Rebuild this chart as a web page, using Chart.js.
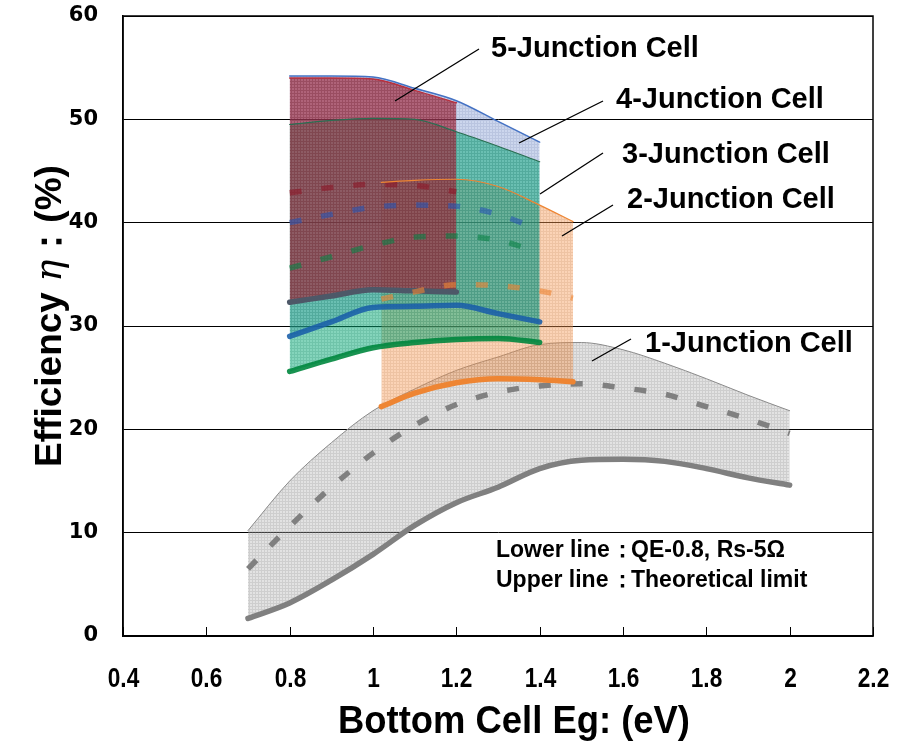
<!DOCTYPE html>
<html><head><meta charset="utf-8">
<script src="https://cdn.jsdelivr.net/npm/chart.js@4.4.0/dist/chart.umd.min.js"></script>
<style>html,body{margin:0;padding:0;background:#fff}#wrap{width:902px;height:743px}</style>
</head><body><div id="wrap"><canvas id="c" width="902" height="743"></canvas></div>
<script>
// ---- data ----
const xTicks = [0.4,0.6,0.8,1.0,1.2,1.4,1.6,1.8,2.0,2.2];
const yTicks = [0,10,20,30,40,50,60];

const j1X      = [0.7,0.8,0.9,1.0,1.1,1.2,1.3,1.4,1.5,1.6,1.7,1.8,1.9,2.0];
const j1Upper  = [10.2,15.0,18.7,21.8,23.9,25.7,27.0,28.2,28.4,27.7,26.4,24.9,23.3,21.8];
const j1Dashed = [6.5,10.6,14.4,17.7,20.4,22.4,23.6,24.2,24.4,24.0,23.4,22.2,21.0,19.6];
const j1Lower  = [1.7,3.2,5.4,7.9,10.7,12.9,14.4,16.2,17.0,17.1,16.9,16.2,15.3,14.6];

const j2X      = [1.02,1.1,1.2,1.3,1.4,1.48];
const j2Upper  = [43.9,44.1,44.2,43.5,41.7,40.1];
const j2Dashed = [32.6,33.3,34.0,33.9,33.4,32.7];
const j2Lower  = [22.2,23.5,24.5,24.9,24.8,24.6];

const j3X      = [0.8,0.9,1.0,1.1,1.2,1.3,1.4];
const j3Upper  = [49.5,49.9,50.1,50.0,48.8,47.4,45.9];
const j3Dashed = [35.6,36.7,37.8,38.6,38.7,38.3,37.1];
const j3Lower  = [25.6,26.8,27.9,28.4,28.7,28.8,28.4];

const j4X      = [0.8,0.9,1.0,1.1,1.2,1.3,1.4];
const j4Upper  = [54.2,54.2,54.1,53.0,51.8,49.8,47.8];
const j4Dashed = [40.0,40.8,41.5,41.7,41.6,40.8,39.3];
const j4Lower  = [29.0,30.4,31.8,31.9,32.0,31.2,30.4];

const j5X      = [0.8,0.9,1.0,1.1,1.2];
const j5Upper  = [54.0,54.0,53.9,52.8,51.6];
const j5Dashed = [42.9,43.4,43.7,43.6,43.0];
const j5Lower  = [32.3,32.9,33.5,33.4,33.3];

const cellLabels = ['5-Junction Cell','4-Junction Cell','3-Junction Cell','2-Junction Cell','1-Junction Cell'];
const noteLeft  = ['Lower line','Upper line'];
const noteColon = '：';
const noteRight = ['QE-0.8, Rs-5Ω','Theoretical limit'];
const xTitle = 'Bottom Cell Eg: (eV)';
const yTitle = ['Efficiency ','η','：(%)'];

// ---- helpers ----
function pts(xs, ys){ return xs.map((x,i)=>({x:x, y:ys[i]})); }
function hatch(r,g,b,a,la){
  const c=document.createElement('canvas'); c.width=3; c.height=3;
  const x=c.getContext('2d');
  x.fillStyle=`rgba(${r},${g},${b},${a})`; x.fillRect(0,0,3,3);
  x.clearRect(0,0,3,1); x.clearRect(0,0,1,3);
  x.fillStyle=`rgba(${Math.round(r*0.9)},${Math.round(g*0.9)},${Math.round(b*0.9)},${la})`;
  x.fillRect(0,0,3,1); x.fillRect(0,1,1,2);
  return x.createPattern(c,'repeat');
}
const ds=[];
function add(o){ ds.push(Object.assign({pointRadius:0, pointHoverRadius:0, cubicInterpolationMode:'monotone', fill:false}, o)); return ds.length-1; }
function line(xs, ys, color, width, dashed, order){
  add({data:pts(xs,ys), borderColor:color, borderWidth:width, borderDash:dashed?[12,20]:[],
       borderCapStyle:dashed?'butt':'round', borderJoinStyle:'round', order:order});
}
function band(xs, top, bottom, fillStyle, order){
  const b=add({data:pts(xs,bottom), borderWidth:0, borderColor:'rgba(0,0,0,0)', order:order});
  add({data:pts(xs,top), borderWidth:0, borderColor:'rgba(0,0,0,0)', fill:{target:b}, backgroundColor:fillStyle, order:order});
}

// ---- bands and lines ----
band(j1X, j1Upper, j1Lower, hatch(175,175,175,0.36,0.5), 100);
line(j1X, j1Upper, '#8a8a8a', 1, false, 90);
line(j1X, j1Dashed, '#808080', 5.5, true, 90);
line(j1X, j1Lower, '#808080', 5.5, false, 90);

band(j2X, j2Upper, j2Lower, hatch(245,150,80,0.42,0.5), 4);
band(j4X, j4Upper, j4Lower, hatch(100,130,200,0.33,0.42), 3);
band(j3X, j3Upper, j3Lower, hatch(10,170,120,0.5,0.58), 2);
band(j5X, j5Upper, j5Lower, hatch(160,40,60,0.66,0.74), 1);

line(j2X, j2Upper, '#ee8533', 1.2, false, 0);
line(j2X, j2Dashed, 'rgba(238,133,51,0.62)', 5.5, true, 0);
line(j2X, j2Lower, '#ee8533', 5.5, false, 0);

line(j3X, j3Upper, '#2a6e52', 1.2, false, 0);
line(j3X, j3Dashed, 'rgba(10,130,70,0.6)', 5.5, true, 0);
line(j3X, j3Lower, 'rgba(0,135,62,0.9)', 5.5, false, 0);

line(j4X, j4Upper, '#4472c4', 1.5, false, 0);
line(j4X, j4Dashed, 'rgba(40,85,180,0.6)', 5.5, true, 0);
line(j4X, j4Lower, 'rgba(25,95,170,0.88)', 5.5, false, 0);

line(j5X, j5Upper, '#b8303e', 1.5, false, 0);
line(j5X, j5Dashed, 'rgba(140,25,40,0.62)', 5.5, true, 0);
line(j5X, j5Lower, '#4d5868', 5.5, false, 0);

// ---- decorations: frame, inward x ticks, texts ----
const SANS='"Liberation Sans",Arial,sans-serif';
function fitText(ctx, text, x, y, font, width, align){
  ctx.save(); ctx.font=font;
  const w=ctx.measureText(text).width, k=width/w;
  ctx.translate(x,y); ctx.scale(k,1); ctx.textAlign=align||'left';
  ctx.fillText(text,0,0); ctx.restore();
}
const deco={
  id:'deco',
  afterDraw(chart){
    const ctx=chart.ctx, a=chart.chartArea, xs=chart.scales.x;
    ctx.save();
    ctx.strokeStyle='#000'; ctx.lineWidth=1.5;
    ctx.strokeRect(a.left, a.top, a.right-a.left, a.bottom-a.top);
    ctx.lineWidth=1;
    ctx.fillStyle='#000'; ctx.textBaseline='alphabetic';
    xTicks.forEach(v=>{
      const px=Math.round(xs.getPixelForValue(v))+0.5;
      ctx.beginPath(); ctx.moveTo(px,a.bottom); ctx.lineTo(px,a.bottom-9); ctx.stroke();
      ctx.save(); ctx.font='bold 27px '+SANS; ctx.translate(px, 687); ctx.scale(0.84,1);
      ctx.textAlign='center'; ctx.fillText(String(Math.round(v*10)/10),0,0); ctx.restore();
    });
    // leader lines
    const leaders=[[395,101,479,49],[519,143,603,101],[540,194,603,153],[562,236,613,205],[592,361,631,339]];
    ctx.lineWidth=1.3;
    leaders.forEach(l=>{ctx.beginPath();ctx.moveTo(l[0],l[1]);ctx.lineTo(l[2],l[3]);ctx.stroke();});
    // cell labels
    ctx.textAlign='left';
    ctx.font='bold 29px '+SANS;
    const lp=[[491,57],[616,108],[622,163],[627,208],[645,352]];
    cellLabels.forEach((t,i)=>ctx.fillText(t,lp[i][0],lp[i][1]));
    // notes
    ctx.font='bold 23px '+SANS;
    noteLeft.forEach((t,i)=>ctx.fillText(t,496,557+i*30));
    ctx.textAlign='center';
    [0,1].forEach(i=>ctx.fillText(noteColon,622,557+i*30));
    ctx.textAlign='left';
    noteRight.forEach((t,i)=>ctx.fillText(t,631,557+i*30));
    // x title (condensed)
    fitText(ctx, xTitle, 514, 733, 'bold 39px '+SANS, 352, 'center');
    // y title (rotated)
    ctx.translate(61, 316); ctx.rotate(-Math.PI/2);
    const f1='bold 37px '+SANS, f2='italic 37px "DejaVu Serif",serif';
    ctx.font=f1; const w1=ctx.measureText(yTitle[0]).width, w3=ctx.measureText(yTitle[2]).width;
    ctx.font=f2; const w2=ctx.measureText(yTitle[1]).width;
    let sx=-(w1+w2+w3)/2; ctx.textAlign='left';
    ctx.font=f1; ctx.fillText(yTitle[0], sx, 0);
    ctx.font=f2; ctx.fillText(yTitle[1], sx+w1, 0);
    ctx.font=f1; ctx.fillText(yTitle[2], sx+w1+w2, 0);
    ctx.restore();
  }
};

new Chart(document.getElementById('c'), {
  type:'line',
  data:{datasets:ds},
  options:{
    responsive:false, animation:false, devicePixelRatio:1,
    layout:{autoPadding:false, padding:{left:0,right:29,top:16,bottom:0}},
    plugins:{legend:{display:false}, tooltip:{enabled:false}},
    elements:{line:{tension:0}},
    scales:{
      x:{type:'linear', min:0.4, max:2.2,
         afterBuildTicks:s=>{s.ticks=xTicks.map(v=>({value:v}));},
         afterFit:s=>{s.height=107; s.paddingLeft=0; s.paddingRight=0;},
         grid:{display:false, drawTicks:false},
         border:{display:true, color:'#000', width:1.5},
         ticks:{display:false}},
      y:{type:'linear', min:0, max:60, z:1,
         afterBuildTicks:s=>{s.ticks=yTicks.map(v=>({value:v}));},
         afterFit:s=>{s.width=123; s.paddingTop=0; s.paddingBottom=0;},
         grid:{color:'#000', lineWidth:1, drawTicks:false},
         border:{display:true, color:'#000', width:1.5},
         ticks:{padding:25, color:'#000', font:{family:'"DejaVu Sans",sans-serif', size:21, weight:'bold'}}}
    }
  },
  plugins:[deco]
});
</script></body></html>
